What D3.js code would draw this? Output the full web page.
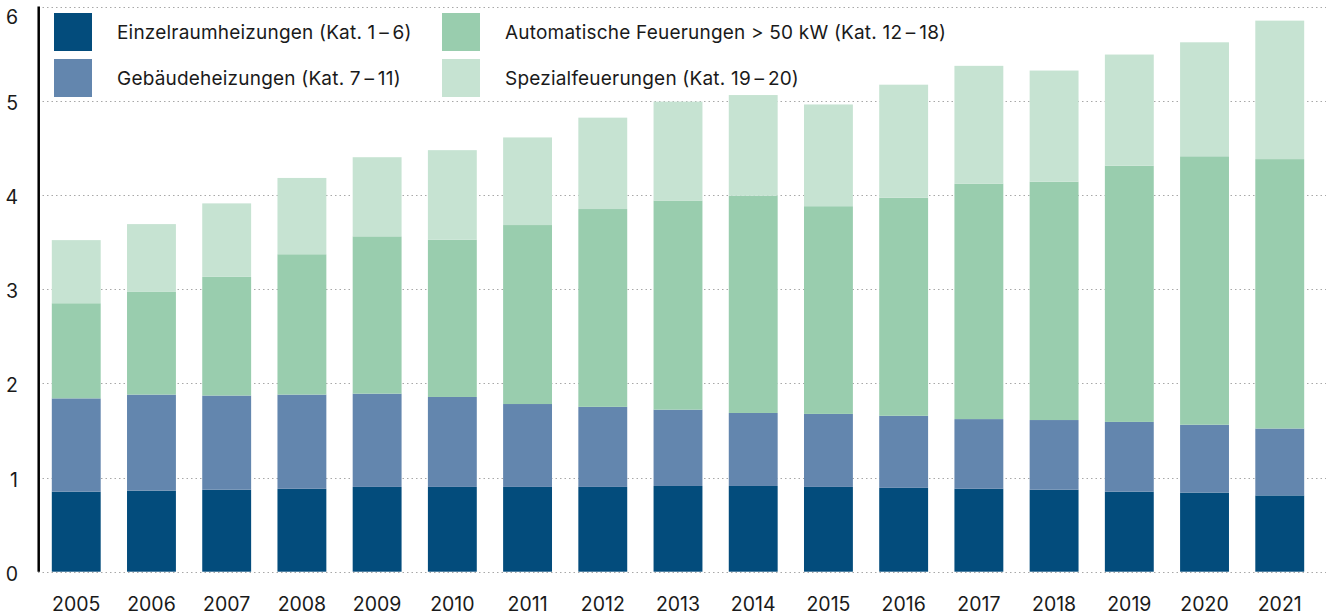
<!DOCTYPE html>
<html lang="de">
<head>
<meta charset="utf-8">
<title>Holzenergie – gestapelte Säulen</title>
<script src="https://d3js.org/d3.v7.min.js"></script>
<style type="text/css">

body {
	margin: 0;
	background: #fff;
	font-family: Inter, "Noto Sans", sans-serif;
}

.grid line {
	stroke: #a8a8a8;
	stroke-width: 1;
	stroke-dasharray: 1.5, 3;
}

.label {
	font-size: 19.5px;
	fill: #1a1a1a;
}

.legend-label {
	font-size: 19px;
	letter-spacing: 0.2px;
	fill: #1a1a1a;
}

</style>
</head>

<body>

<div id="vis"></div>

<script>

/* Data */
/* ==== */

var years = ['2005', '2006', '2007', '2008', '2009', '2010', '2011', '2012', '2013',
	'2014', '2015', '2016', '2017', '2018', '2019', '2020', '2021'];

var einzelraum = [0.85, 0.86, 0.87, 0.88, 0.90, 0.90, 0.90, 0.90, 0.91,
	0.91, 0.90, 0.89, 0.88, 0.87, 0.85, 0.84, 0.81];

var gebaeude = [0.99, 1.02, 1.00, 1.00, 0.99, 0.955, 0.88, 0.85, 0.81,
	0.775, 0.775, 0.765, 0.74, 0.74, 0.74, 0.72, 0.71];

var automatisch = [1.01, 1.09, 1.26, 1.49, 1.67, 1.67, 1.90, 2.10, 2.22,
	2.305, 2.205, 2.315, 2.50, 2.53, 2.72, 2.85, 2.86];

var spezial = [0.67, 0.72, 0.78, 0.81, 0.84, 0.95, 0.93, 0.97, 1.05,
	1.07, 1.08, 1.20, 1.25, 1.18, 1.18, 1.21, 1.47];

var seriesNames = [
	'Einzelraumheizungen (Kat. 1\u2009–\u20096)',
	'Gebäudeheizungen (Kat. 7\u2009–\u200911)',
	'Automatische Feuerungen > 50 kW (Kat. 12\u2009–\u200918)',
	'Spezialfeuerungen (Kat. 19\u2009–\u200920)'
];

var yTicks = [0, 1, 2, 3, 4, 5, 6];

var colors = ['#034c7c', '#6386ae', '#99cdae', '#c6e3d2'];


/* SVG */
/* === */

var width = 1326,
		height = 616;

var svg = d3.select('#vis')
	.append('svg')
		.attr('width', width)
		.attr('height', height);

var x = d3.scaleBand()
	.domain(years)
	.range([33, 1323])
	.paddingInner(0.35)
	.paddingOuter(0.25);

var y = d3.scaleLinear()
	.domain([0, 6])
	.range([571.7, 6.5]);


/* Build table for the stack */
/* ========================= */

var keys = ['einzelraum', 'gebaeude', 'automatisch', 'spezial'];

var table = years.map(function(yr, i) {
	return {
		year: yr,
		einzelraum: einzelraum[i],
		gebaeude: gebaeude[i],
		automatisch: automatisch[i],
		spezial: spezial[i]
	};
});

var stacked = d3.stack().keys(keys)(table);


/* Grid */
/* ==== */

svg.append('g')
		.attr('class', 'grid')
	.selectAll('line')
	.data(yTicks)
	.enter().append('line')
		.attr('x1', 38)
		.attr('x2', width)
		.attr('y1', function(d) { return Math.round(y(d)) + 0.5; })
		.attr('y2', function(d) { return Math.round(y(d)) + 0.5; });


/* Bars */
/* ==== */

svg.append('g').attr('id', 'bars')
		.selectAll('g')
	.data(stacked)
	.enter().append('g')
		.attr('fill', function(d, i) { return colors[i]; })
	.selectAll('rect')
	.data(function(d) { return d; })
	.enter().append('rect')
		.attr('x', function(d) { return x(d.data.year); })
		.attr('width', x.bandwidth())
		.attr('y', function(d) { return y(d[1]); })
		.attr('height', function(d) { return y(d[0]) - y(d[1]); });


/* Axes */
/* ==== */

// vertical axis line
svg.append('line')
	.attr('x1', 38.7)
	.attr('x2', 38.7)
	.attr('y1', y(6))
	.attr('y2', y(0))
	.attr('stroke', '#000')
	.attr('stroke-width', 2.5);

svg.append('g').attr('id', 'ylabels')
		.selectAll('text')
	.data(yTicks)
	.enter().append('text')
		.attr('class', 'label')
		.attr('x', 18)
		.attr('y', function(d) { return Math.max(y(d) + 9, 23.5); })
		.attr('text-anchor', 'end')
		.text(function(d) { return d; });

svg.append('g').attr('id', 'xlabels')
		.selectAll('text')
	.data(years)
	.enter().append('text')
		.attr('class', 'label')
		.attr('x', function(d) { return x(d) + x.bandwidth() / 2; })
		.attr('y', 611)
		.attr('text-anchor', 'middle')
		.text(function(d) { return d; });


/* Legend */
/* ====== */

var legendPos = [[54, 13], [54, 59], [442, 13], [442, 59]];

var legend = svg.append('g').attr('id', 'legend')
		.selectAll('g')
	.data(seriesNames)
	.enter().append('g')
		.attr('transform', function(d, i) {
			return 'translate(' + legendPos[i][0] + ', ' + legendPos[i][1] + ')';
		});

legend.append('rect')
	.attr('width', 38)
	.attr('height', 38)
	.attr('fill', function(d, i) { return colors[i]; });

legend.append('text')
	.attr('class', 'legend-label')
	.attr('x', 63)
	.attr('y', 26)
	.text(function(d) { return d; });

</script>

</body>
</html>
